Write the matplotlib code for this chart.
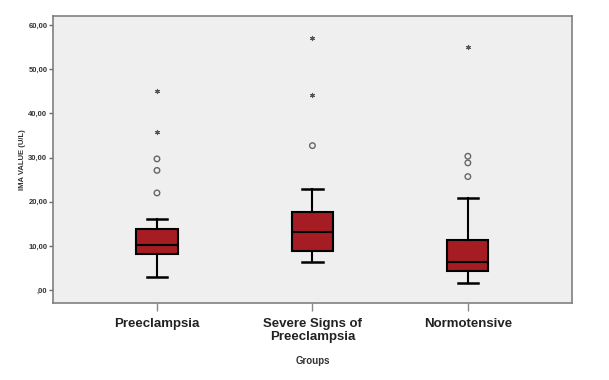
import matplotlib
matplotlib.use("Agg")
import matplotlib.pyplot as plt

plt.rcParams['font.family'] = ['Liberation Sans', 'DejaVu Sans']

groups = ["Preeclampsia", "Severe Signs of\nPreeclampsia", "Normotensive"]
whislo = [2.9, 6.4, 1.6]
q1 = [8.15, 8.9, 4.4]
med = [10.3, 13.1, 6.3]
q3 = [13.8, 17.6, 11.3]
whishi = [16.1, 22.8, 20.8]
outliers = [[29.7, 27.1, 22.0], [32.7], [30.3, 28.8, 25.7]]
extremes = [[45.1, 35.7], [57.0, 44.1], [55.1]]
yticks = [0, 10, 20, 30, 40, 50, 60]

fig = plt.figure(figsize=(6.09, 3.80), dpi=100)
ax = fig.add_axes([0.087, 0.2026, 0.852, 0.755])
ax.set_facecolor('#efefef')

stats = []
for i in range(len(groups)):
    stats.append(dict(whislo=whislo[i], q1=q1[i], med=med[i], q3=q3[i],
                      whishi=whishi[i], fliers=[]))
pos = [1, 2, 3]
ax.bxp(stats, positions=pos, widths=0.265, patch_artist=True, showfliers=False,
       boxprops=dict(facecolor='#a51c22', edgecolor='black', linewidth=1.5),
       medianprops=dict(color='black', linewidth=1.5),
       whiskerprops=dict(color='black', linewidth=1.5),
       capprops=dict(color='black', linewidth=1.8), capwidths=0.13)

for p, vals in zip(pos, outliers):
    ax.scatter([p] * len(vals), vals, s=16, facecolor='none', edgecolor='#666666',
               linewidth=1.0, zorder=3)
for p, vals in zip(pos, extremes):
    ax.scatter([p] * len(vals), vals, s=9, marker=(6, 2, 0), color='#555555',
               linewidth=0.8, zorder=3)

ax.set_xlim(0.331, 3.669)
ax.set_ylim(-2.9, 62)
ax.set_xticks(pos)
ax.set_xticklabels(groups, fontsize=9.5, fontweight='bold', color='#222222',
                   linespacing=1.1)
ax.set_yticks(yticks)
ax.set_yticklabels([(",00" if v == 0 else f"{v},00") for v in yticks],
                   fontsize=5.5, fontweight='bold', color='#333333')
ax.tick_params(axis='x', length=6, color='#888888', width=1, pad=5)
ax.tick_params(axis='y', length=3, color='#666666', width=1, pad=1)
ax.set_ylabel("IMA VALUE (U/L)", fontsize=5.5, fontweight='bold', color='#333333',
              labelpad=2)
ax.set_xlabel("Groups", fontsize=7, fontweight='bold', color='#333333', labelpad=9)
for s in ax.spines.values():
    s.set_color('#808080')
    s.set_linewidth(1.2)

fig.savefig("out.png", dpi=100)
